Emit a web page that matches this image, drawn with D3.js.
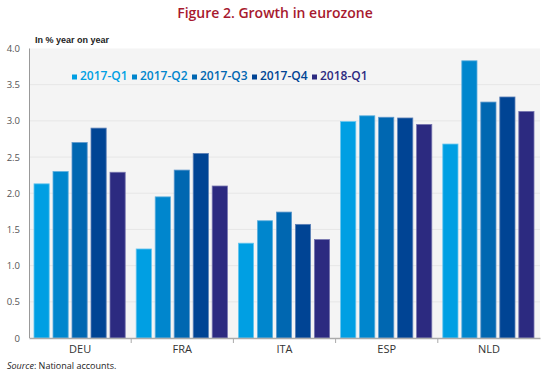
<!DOCTYPE html>
<html>
<head>
<meta charset="utf-8">
<script src="https://cdn.jsdelivr.net/npm/d3@7"></script>
<style>
  body { margin: 0; background: #fff; }
  svg { display: block; }
</style>
</head>
<body>
<div id="chart"></div>
<script>
// Data
var countries = ["DEU", "FRA", "ITA", "ESP", "NLD"];
var quarters = ["2017-Q1", "2017-Q2", "2017-Q3", "2017-Q4", "2018-Q1"];
var q2017_1 = [2.13, 1.23, 1.31, 2.99, 2.68];
var q2017_2 = [2.30, 1.95, 1.62, 3.07, 3.83];
var q2017_3 = [2.70, 2.32, 1.74, 3.05, 3.26];
var q2017_4 = [2.90, 2.55, 1.57, 3.04, 3.33];
var q2018_1 = [2.29, 2.10, 1.36, 2.95, 3.13];
var yTicks = [0, 0.5, 1.0, 1.5, 2.0, 2.5, 3.0, 3.5, 4.0];

var series = [q2017_1, q2017_2, q2017_3, q2017_4, q2018_1];
var colors = ["#009fe3", "#0086cd", "#0067b1", "#004494", "#2c2a80"];
var strokes = ["#66c5ee", "#5fb0de", "#5c97cb", "#5c80b7", "#7674ae"];

var width = 550, height = 376;
var margin = {top: 48.5, right: 10, bottom: 38, left: 29};
var plotW = width - margin.left - margin.right;
var plotH = height - margin.top - margin.bottom;

var svg = d3.select("#chart").append("svg")
    .attr("width", width)
    .attr("height", height);

//Title
svg.append("text")
    .attr("x", width / 2)
    .attr("y", 18)
    .attr("text-anchor", "middle")
    .style("font-family", "'Open Sans', sans-serif")
    .style("font-weight", "600")
    .style("font-size", "14px")
    .style("fill", "#a7192e")
    .text("Figure 2. Growth in eurozone");

var g = svg.append("g")
    .attr("transform", "translate(" + margin.left + "," + margin.top + ")");

//Scales
var x0 = d3.scaleBand()
    .domain(countries)
    .range([0, plotW]);

var x1 = d3.scaleBand()
    .domain(d3.range(quarters.length))
    .range([5, x0.bandwidth() - 6])
    .paddingInner(0.2);

var y = d3.scaleLinear()
    .domain([0, 4])
    .range([plotH, 0]);

//Background
g.append("rect")
    .attr("x", 0)
    .attr("y", 0)
    .attr("width", plotW)
    .attr("height", plotH)
    .attr("fill", "#f4f4f4");

//Gridlines
g.selectAll("line.grid")
    .data(yTicks.slice(1, -1))
    .enter()
    .append("line")
        .attr("class", "grid")
        .attr("x1", 0)
        .attr("x2", plotW)
        .attr("y1", d => y(d))
        .attr("y2", d => y(d))
        .style("stroke", "#e6e6e6")
        .style("stroke-width", 1);

//Bars
var groups = g.selectAll("g.country")
    .data(countries)
    .enter()
    .append("g")
        .attr("class", "country")
        .attr("transform", d => "translate(" + x0(d) + ",0)");

groups.selectAll("rect")
    .data((d, ci) => series.map((s, si) => ({si: si, v: s[ci]})))
    .enter()
    .append("rect")
        .attr("x", d => x1(d.si))
        .attr("y", d => y(d.v))
        .attr("width", x1.bandwidth())
        .attr("height", d => y(0) - y(d.v))
        .attr("fill", d => colors[d.si])
        .style("stroke", d => strokes[d.si])
        .style("stroke-width", 0.8);

//Y axis
var yAxis = g.append("g")
    .call(d3.axisLeft(y)
        .tickValues(yTicks)
        .tickSize(0)
        .tickPadding(9)
        .tickFormat(d => d === 0 ? "0" : d3.format(".1f")(d)));

yAxis.select(".domain").remove();
yAxis.selectAll("text")
    .style("font-family", "'Open Sans', sans-serif")
    .style("font-size", "9.5px")
    .style("fill", "#555");

g.append("line")
    .attr("x1", 0.5).attr("x2", 0.5)
    .attr("y1", 0).attr("y2", plotH)
    .style("stroke", "#999")
    .style("stroke-width", 1);

//X axis
var xAxis = g.append("g")
    .attr("transform", "translate(0," + plotH + ")")
    .call(d3.axisBottom(x0).tickSize(0).tickPadding(7));

xAxis.select(".domain")
    .style("stroke", "#aaa")
    .style("stroke-width", 1.5);
xAxis.selectAll("text")
    .style("font-family", "'Open Sans', sans-serif")
    .style("font-size", "11px")
    .style("fill", "#333");

g.selectAll("line.sep")
    .data(countries.slice(1))
    .enter()
    .append("line")
        .attr("class", "sep")
        .attr("x1", d => x0(d))
        .attr("x2", d => x0(d))
        .attr("y1", plotH)
        .attr("y2", plotH + 5)
        .style("stroke", "#aaa");

//Unit label
svg.append("text")
    .attr("x", 35)
    .attr("y", 43)
    .style("font-family", "'Liberation Sans', Arial, sans-serif")
    .style("font-weight", "bold")
    .style("font-size", "9px")
    .style("fill", "#222")
    .text("In % year on year");

//Legend
var legend = svg.append("g")
    .attr("transform", "translate(72,80)");

var items = legend.selectAll("g")
    .data(quarters)
    .enter()
    .append("g")
        .attr("transform", (d, i) => "translate(" + (i * 60) + ",0)");

items.append("rect")
    .attr("x", 0)
    .attr("y", -5.5)
    .attr("width", 5)
    .attr("height", 5)
    .attr("fill", (d, i) => colors[i]);

items.append("text")
    .attr("x", 8)
    .attr("y", 0)
    .style("font-family", "'Open Sans', sans-serif")
    .style("font-weight", "600")
    .style("font-size", "12px")
    .style("fill", (d, i) => colors[i])
    .text(d => d);

//Source
var src = svg.append("text")
    .attr("x", 7)
    .attr("y", 369)
    .style("font-family", "'Open Sans', sans-serif")
    .style("font-size", "9px")
    .style("fill", "#222");
src.append("tspan").style("font-style", "italic").text("Source");
src.append("tspan").text(": National accounts.");
</script>
</body>
</html>
